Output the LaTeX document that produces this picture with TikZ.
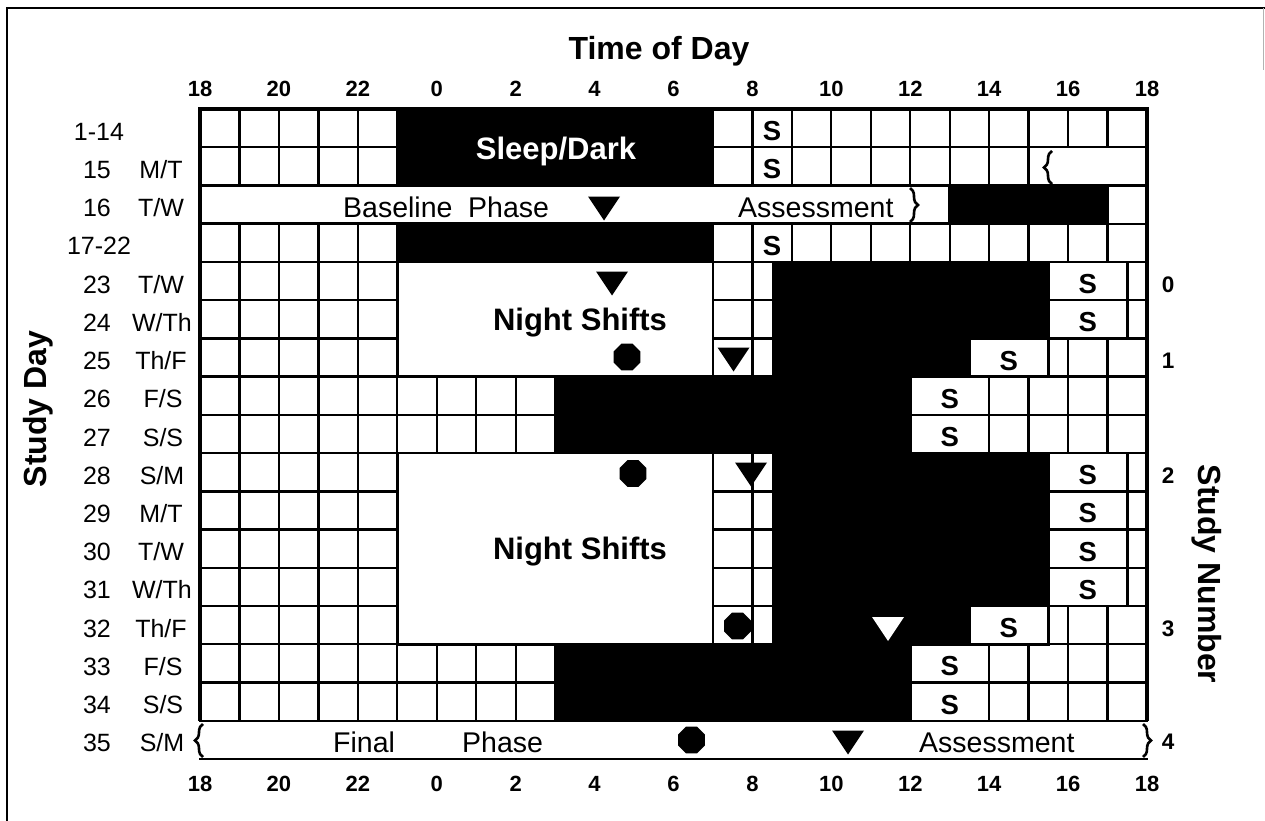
\documentclass[tikz,border=0pt]{standalone}
\usepackage{fontspec}
\setmainfont{Liberation Sans}
\usetikzlibrary{shapes.geometric,decorations.pathreplacing}
\begin{document}
\begin{tikzpicture}[x=1pt,y=-1pt,
  declare function={X(\h)=200+39.458*(\h); Y(\r)=109+38.235*(\r);},
  gl/.style={line width=2.3pt,line cap=rect},
  blk/.style={fill=black,draw=black,line width=0.6pt},
  wbox/.style={fill=white,draw=black,line width=2.5pt},
  brc/.style={line width=2.6pt,decorate,decoration={brace,amplitude=8pt}},
  axnum/.style={font=\fontsize{22}{26}\selectfont\bfseries,anchor=base,inner sep=0pt},
  ttl/.style={font=\fontsize{32}{36}\selectfont\bfseries,inner sep=0pt},
  rowlab/.style={font=\fontsize{25}{28}\selectfont,anchor=base,inner sep=0pt},
  ph/.style={font=\fontsize{28.5}{32}\selectfont,anchor=base west,inner sep=0pt},
  big/.style={font=\fontsize{31}{36}\selectfont\bfseries,anchor=base,inner sep=0pt},
  slab/.style={font=\fontsize{27.5}{30}\selectfont\bfseries,anchor=base,inner sep=0pt},
  snum/.style={font=\fontsize{22.5}{24}\selectfont\bfseries,anchor=base,inner sep=0pt},
  oct/.style={regular polygon,regular polygon sides=8,minimum size=29pt,fill=black,inner sep=0pt},
  dtri/.pic={\path[pic actions] (-16,-12) -- (16,-12) -- (0,12) -- cycle;}
]
\useasboundingbox (0,0) rectangle (1265,821);
% outer frame
\draw[line width=1.8pt] (7,821) -- (7,8) -- (1265,8);
\draw[line width=1pt,gray!60] (1263,8) -- (1263,70);

% grid lines
\foreach \i in {0,...,24} \draw[gl] ({X(\i)},{Y(0)}) -- ({X(\i)},{Y(16)});
\foreach \j in {1,...,15} \draw[gl] ({X(0)},{Y(\j)}) -- ({X(24)},{Y(\j)});

% black regions
\path[blk] ({X(5)},{Y(0)}) rectangle ({X(13)},{Y(2)});
\path[blk] ({X(5)},{Y(3)}) rectangle ({X(13)},{Y(4)});
\path[blk] ({X(19)},{Y(2)}) rectangle ({X(23)},{Y(3)});
\path[blk] ({X(14.5)},{Y(4)}) rectangle ({X(21.5)},{Y(6)});
\path[blk] ({X(14.5)},{Y(6)}) rectangle ({X(19.5)},{Y(7)});
\path[blk] ({X(9)},{Y(7)}) rectangle ({X(18)},{Y(9)});
\path[blk] ({X(14.5)},{Y(6.5)}) rectangle ({X(18)},{Y(9.5)});
\path[blk] ({X(14.5)},{Y(9)}) rectangle ({X(21.5)},{Y(13)});
\path[blk] ({X(14.5)},{Y(13)}) rectangle ({X(19.5)},{Y(14)});
\path[blk] ({X(9)},{Y(14)}) rectangle ({X(18)},{Y(16)});
\path[blk] ({X(14.5)},{Y(13.5)}) rectangle ({X(18)},{Y(14.5)});

% white boxes
\path[wbox] ({X(0)},{Y(2)}) rectangle ({X(19)},{Y(3)});
\path[wbox] ({X(21)},{Y(1)}) rectangle ({X(24)},{Y(2)});
\path[wbox] ({X(5)},{Y(4)}) rectangle ({X(13)},{Y(7)});
\path[wbox] ({X(5)},{Y(9)}) rectangle ({X(13)},{Y(14)});
\foreach \r in {4,5,9,10,11,12} \path[wbox] ({X(21.5)},{Y(\r)}) rectangle ({X(23.5)},{Y(\r+1)});
\foreach \r in {6,13} \path[wbox] ({X(19.5)},{Y(\r)}) rectangle ({X(21.5)},{Y(\r+1)});
\foreach \r in {7,8,14,15} \path[wbox] ({X(18)},{Y(\r)}) rectangle ({X(20)},{Y(\r+1)});
\fill[white] ({X(0)},{Y(16)}) rectangle ({X(24)},{Y(17)});
\draw[gl] ({X(0)},{Y(16)}) -- ({X(24)},{Y(16)});
\draw[gl] ({X(0)},{Y(17)}) -- ({X(24)},{Y(17)});

% grid border
\draw[line width=3.5pt] ({X(0)},{Y(16)}) -- ({X(0)},{Y(0)}) -- ({X(24)},{Y(0)}) -- ({X(24)},{Y(16)});

% braces
\draw[brc] (910,188) -- (910,222);
\draw[brc] (1052,184) -- (1052,151);
\draw[brc] (203,757) -- (203,724);
\draw[brc] (1143,724) -- (1143,757);

% titles
\node[ttl,anchor=base] (tod) at (659,60) {Time of Day};
\node[ttl,rotate=90,anchor=center] (sday) at (38,409) {Study Day};
\node[ttl,rotate=-90,anchor=center] (snumt) at (1207,574) {Study Number};

% axis numbers
\foreach \i/\t in {0/18,2/20,4/22,6/0,8/2,10/4,12/6,14/8,16/10,18/12,20/14,22/16,24/18} {
  \node[axnum] (ta\i) at ({X(\i)},97) {\t};
  \node[axnum] (ba\i) at ({X(\i)},791) {\t};
}

% row labels
\node[rowlab] (dn0) at (99,{Y(0.5)+12}) {1-14};
\node[rowlab] (dn1) at (97,{Y(1.5)+12}) {15};  \node[rowlab] (dw1) at (161,{Y(1.5)+12}) {M/T};
\node[rowlab] (dn2) at (97,{Y(2.5)+12}) {16};  \node[rowlab] (dw2) at (161,{Y(2.5)+12}) {T/W};
\node[rowlab] (dn3) at (99,{Y(3.5)+12}) {17-22};
\node[rowlab] (dn4) at (97,{Y(4.5)+12}) {23};  \node[rowlab] (dw4) at (161,{Y(4.5)+12}) {T/W};
\node[rowlab] (dn5) at (97,{Y(5.5)+12}) {24};  \node[rowlab] (dw5) at (162,{Y(5.5)+12}) {W/Th};
\node[rowlab] (dn6) at (97,{Y(6.5)+12}) {25};  \node[rowlab] (dw6) at (161,{Y(6.5)+12}) {Th/F};
\node[rowlab] (dn7) at (97,{Y(7.5)+12}) {26};  \node[rowlab] (dw7) at (163,{Y(7.5)+12}) {F/S};
\node[rowlab] (dn8) at (97,{Y(8.5)+12}) {27};  \node[rowlab] (dw8) at (163,{Y(8.5)+12}) {S/S};
\node[rowlab] (dn9) at (97,{Y(9.5)+12}) {28};  \node[rowlab] (dw9) at (162,{Y(9.5)+12}) {S/M};
\node[rowlab] (dn10) at (97,{Y(10.5)+12}) {29}; \node[rowlab] (dw10) at (161,{Y(10.5)+12}) {M/T};
\node[rowlab] (dn11) at (97,{Y(11.5)+12}) {30}; \node[rowlab] (dw11) at (161,{Y(11.5)+12}) {T/W};
\node[rowlab] (dn12) at (97,{Y(12.5)+12}) {31}; \node[rowlab] (dw12) at (162,{Y(12.5)+12}) {W/Th};
\node[rowlab] (dn13) at (97,{Y(13.5)+12}) {32}; \node[rowlab] (dw13) at (161,{Y(13.5)+12}) {Th/F};
\node[rowlab] (dn14) at (97,{Y(14.5)+12}) {33}; \node[rowlab] (dw14) at (163,{Y(14.5)+12}) {F/S};
\node[rowlab] (dn15) at (97,{Y(15.5)+12}) {34}; \node[rowlab] (dw15) at (163,{Y(15.5)+12}) {S/S};
\node[rowlab] (dn16) at (97,{Y(16.5)+12}) {35}; \node[rowlab] (dw16) at (162,{Y(16.5)+12}) {S/M};

% study numbers
\node[snum] (sn0) at (1168,{Y(4.5)+11}) {0};
\node[snum] (sn1) at (1168,{Y(6.5)+11}) {1};
\node[snum] (sn2) at (1168,{Y(9.5)+11}) {2};
\node[snum] (sn3) at (1168,{Y(13.5)+11}) {3};
\node[snum] (sn4) at (1168,{Y(16.5)+10}) {4};

% block texts
\node[big,text=white] (sleep) at (556,160) {Sleep/Dark};
\node[big] (ns1) at (580,330) {Night Shifts};
\node[big] (ns2) at (580,559) {Night Shifts};
\node[ph] (bl) at (343,217) {Baseline};
\node[ph] (bp) at (468,217) {Phase};
\node[ph] (ba) at (738,217) {Assessment};
\node[ph] (fl) at (333,752) {Final};
\node[ph] (fp) at (462,752) {Phase};
\node[ph] (fa) at (919,752) {Assessment};

% S labels
\foreach \r in {0,1,3} \node[slab] (s\r) at ({X(14.5)},{Y(\r+0.5)+12.5}) {S};
\foreach \r in {4,5,9,10,11,12} \node[slab] (s\r) at ({X(22.5)},{Y(\r+0.5)+12.5}) {S};
\foreach \r in {6,13} \node[slab] (s\r) at ({X(20.5)},{Y(\r+0.5)+12.5}) {S};
\foreach \r in {7,8,14,15} \node[slab] (s\r) at ({X(19)},{Y(\r+0.5)+12.5}) {S};

% markers
\pic[fill=black] at (604,208.5) {dtri};
\pic[fill=black] at (612,283.5) {dtri};
\pic[fill=black] at (733.5,359.5) {dtri};
\pic[fill=black] at (751,474.5) {dtri};
\pic[fill=white] at (888,629) {dtri};
\pic[fill=black] at (848,742.5) {dtri};
\node[oct] (o1) at (627,357) {};
\node[oct] (o2) at (633,473.5) {};
\node[oct] (o3) at (737.5,626) {};
\node[oct] (o4) at (691.5,740) {};
\end{tikzpicture}
\end{document}
